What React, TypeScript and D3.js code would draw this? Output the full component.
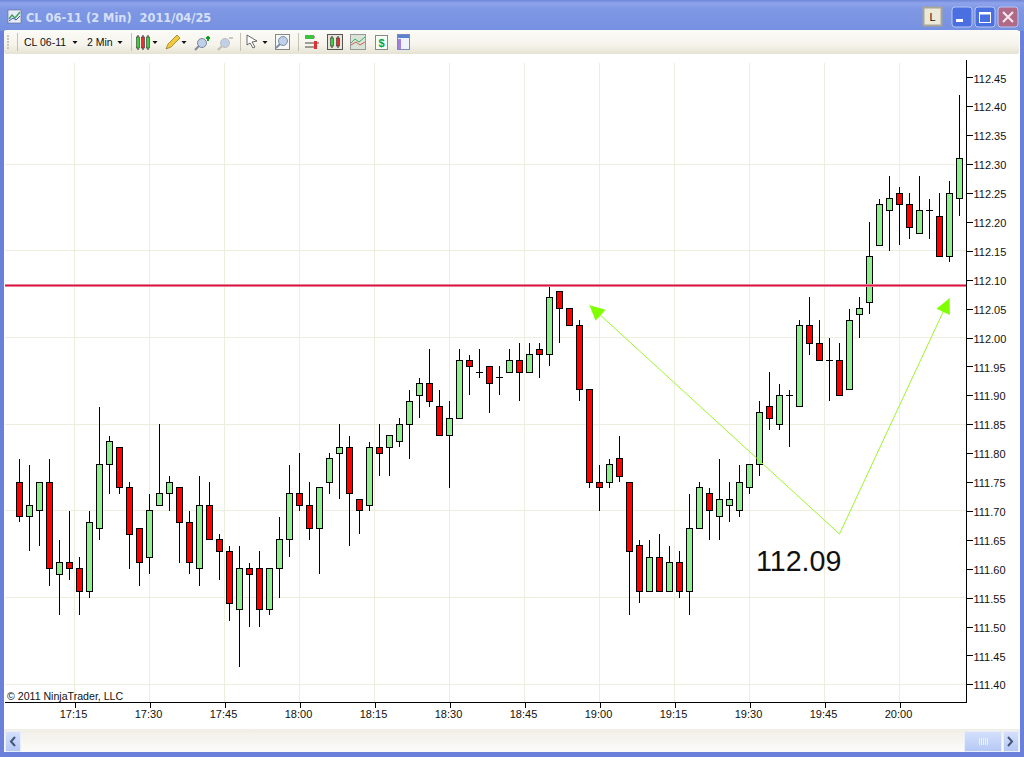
import * as d3 from "d3";
import React, { useEffect, useRef } from "react";

const opens = [111.75,111.69,111.70,111.75,111.59,111.61,111.60,111.56,111.67,111.78,111.81,111.74,111.67,111.62,111.71,111.73,111.74,111.68,111.60,111.71,111.65,111.63,111.53,111.60,111.60,111.53,111.60,111.65,111.73,111.71,111.67,111.75,111.80,111.81,111.72,111.71,111.81,111.81,111.82,111.85,111.90,111.92,111.88,111.83,111.86,111.96,111.94,111.95,111.93,111.94,111.96,111.94,111.98,111.97,112.08,112.05,112.02,111.91,111.75,111.75,111.79,111.75,111.64,111.56,111.62,111.56,111.61,111.56,111.67,111.73,111.69,111.71,111.70,111.74,111.78,111.88,111.85,111.90,111.88,112.02,111.99,111.96,111.96,111.91,112.04,112.06,112.16,112.22,112.25,112.23,112.18,112.22,112.21,112.14,112.24];
const highs = [111.79,111.78,111.75,111.79,111.65,111.70,111.62,111.70,111.88,111.83,111.81,111.75,111.67,111.73,111.85,111.76,111.74,111.70,111.76,111.75,111.66,111.64,111.64,111.61,111.63,111.60,111.69,111.78,111.80,111.75,111.74,111.80,111.85,111.83,111.72,111.82,111.85,111.83,111.86,111.91,111.93,111.98,111.91,111.89,111.98,111.97,111.98,111.95,111.95,111.98,111.99,111.99,111.99,112.09,112.08,112.05,112.03,111.91,111.78,111.79,111.83,111.75,111.65,111.65,111.66,111.64,111.63,111.73,111.75,111.74,111.79,111.75,111.78,111.78,111.89,111.94,111.92,111.91,112.03,112.07,112.03,112.00,111.99,112.05,112.07,112.20,112.24,112.28,112.26,112.25,112.28,112.24,112.25,112.27,112.42];
const lows = [111.68,111.63,111.64,111.57,111.52,111.58,111.52,111.55,111.65,111.73,111.73,111.60,111.57,111.59,111.71,111.70,111.61,111.59,111.57,111.65,111.58,111.51,111.43,111.50,111.50,111.52,111.55,111.62,111.70,111.65,111.59,111.73,111.72,111.64,111.66,111.70,111.76,111.76,111.81,111.79,111.86,111.88,111.83,111.74,111.86,111.90,111.93,111.87,111.90,111.94,111.89,111.94,111.93,111.95,111.99,112.02,111.89,111.74,111.70,111.74,111.75,111.52,111.54,111.56,111.56,111.56,111.55,111.52,111.67,111.65,111.65,111.68,111.69,111.73,111.76,111.84,111.84,111.81,111.88,111.97,111.96,111.89,111.90,111.91,112.00,112.04,112.16,112.15,112.16,112.17,112.18,112.17,112.14,112.13,112.21];
const closes = [111.69,111.71,111.75,111.60,111.61,111.60,111.56,111.68,111.78,111.82,111.74,111.66,111.61,111.70,111.73,111.75,111.68,111.61,111.71,111.65,111.63,111.54,111.60,111.59,111.53,111.60,111.65,111.73,111.71,111.67,111.74,111.79,111.81,111.73,111.70,111.81,111.80,111.83,111.85,111.89,111.92,111.89,111.83,111.86,111.96,111.95,111.94,111.92,111.93,111.96,111.94,111.97,111.97,112.07,112.05,112.02,111.91,111.75,111.74,111.78,111.76,111.63,111.56,111.62,111.56,111.61,111.56,111.67,111.74,111.70,111.72,111.72,111.75,111.78,111.87,111.86,111.90,111.90,112.02,111.99,111.96,111.96,111.90,112.03,112.05,112.14,112.23,112.24,112.23,112.19,112.22,112.22,112.14,112.25,112.31];

const priceTicks = d3.range(111.4, 112.451, 0.05);
const gridPrices = [111.4, 111.55, 111.7, 111.85, 112.0, 112.15, 112.3];
const timeLabels = ["17:15","17:30","17:45","18:00","18:15","18:30","18:45","19:00","19:15","19:30","19:45","20:00"];
const levelPrice = 112.09;
const arrowTimes = ["18:58", "19:48", "20:10"];
const arrowPrices = [112.056, 111.66, 112.068];
const noteText = "112.09";
const titleText = "CL 06-11 (2 Min)  2011/04/25";

const WIDTH = 1024;
const HEIGHT = 757;
const UI_FONT = "Tahoma, 'DejaVu Sans', sans-serif";
const CHART_FONT = "'Liberation Sans', Arial, sans-serif";

const toMinutes = (s: string) => {
  const [h, m] = s.split(":").map(Number);
  return h * 60 + m;
};
const crisp = (v: number) => Math.floor(v) + 0.5;

export default function App() {
  const ref = useRef<SVGSVGElement>(null);

  useEffect(() => {
    const svg = d3.select(ref.current);
    svg.selectAll("*").remove();

    const startMin = toMinutes("17:04");
    const x = d3.scaleLinear().domain([startMin, startMin + 188]).range([19.5, 959.5]);
    const y = d3.scaleLinear().domain([111.4, 112.4]).range([684.3, 106.3]);

    const defs = svg.append("defs");
    const grad = (id: string, stops: [number, string][]) => {
      const g = defs.append("linearGradient").attr("id", id).attr("x1", 0).attr("y1", 0).attr("x2", 0).attr("y2", 1);
      stops.forEach(([o, c]) => g.append("stop").attr("offset", o).attr("stop-color", c));
    };
    grad("titleBar", [[0, "#6f87d8"], [0.1, "#8ea3ea"], [0.3, "#7f97e4"], [0.8, "#7993e2"], [1, "#7490e0"]]);
    grad("toolBar", [[0, "#fbfbf7"], [0.6, "#f6f4ec"], [1, "#e6e3d3"]]);
    grad("scrollBar", [[0, "#f0eee6"], [1, "#fcfcfa"]]);
    grad("btn", [[0, "#d5e0fb"], [1, "#b5c8f5"]]);

    // window frame
    svg.append("rect").attr("width", WIDTH).attr("height", HEIGHT).attr("fill", "#6a80da");
    svg.append("rect").attr("width", WIDTH).attr("height", 31).attr("fill", "url(#titleBar)");
    svg.append("rect").attr("x", 4).attr("y", 31).attr("width", 1016).attr("height", 721).attr("fill", "#fff");

    // title bar
    const ico = svg.append("g").attr("transform", "translate(8,10)");
    ico.append("rect").attr("width", 13).attr("height", 13).attr("fill", "#e8ecf6").attr("stroke", "#5a6a90").attr("stroke-width", 0.6);
    ico.append("path").attr("d", "M1,9L4,5L7,8L12,2").attr("fill", "none").attr("stroke", "#3aa05a").attr("stroke-width", 1.4);
    ico.append("path").attr("d", "M1,11L5,8L8,10L12,6").attr("fill", "none").attr("stroke", "#3a58b0").attr("stroke-width", 1);
    svg.append("text").attr("x", 26).attr("y", 22).attr("font-family", UI_FONT).attr("font-weight", "bold")
      .attr("font-size", 11.4).attr("fill", "#d5e0f8").attr("xml:space", "preserve").style("white-space", "pre").text(titleText);

    svg.append("rect").attr("x", 923.5).attr("y", 7.5).attr("width", 18).attr("height", 18).attr("fill", "#ece9d8").attr("stroke", "#a9a695").attr("stroke-width", 2);
    svg.append("text").attr("x", 932.5).attr("y", 21).attr("text-anchor", "middle").attr("font-family", CHART_FONT).attr("font-size", 11).attr("fill", "#111").text("L");
    const winBtn = (bx: number, fill: string) =>
      svg.append("rect").attr("x", bx).attr("y", 7).attr("width", 20).attr("height", 20).attr("rx", 3).attr("fill", fill).attr("stroke", "#b8c6f2").attr("stroke-width", 1);
    winBtn(952, "#4a6fe0");
    svg.append("rect").attr("x", 956).attr("y", 19).attr("width", 7).attr("height", 3).attr("fill", "#fff");
    winBtn(975, "#4a6fe0");
    svg.append("rect").attr("x", 979.5).attr("y", 12.5).attr("width", 11).attr("height", 10).attr("fill", "none").attr("stroke", "#fff").attr("stroke-width", 1);
    svg.append("rect").attr("x", 979).attr("y", 12).attr("width", 12).attr("height", 2.5).attr("fill", "#fff");
    winBtn(998, "#b06a88");
    svg.append("path").attr("d", "M1003,12L1013,22M1013,12L1003,22").attr("stroke", "#f4e8ee").attr("stroke-width", 2.2);

    // toolbar
    svg.append("rect").attr("x", 4).attr("y", 30).attr("width", 1015).attr("height", 24).attr("rx", 2).attr("fill", "url(#toolBar)");
    d3.range(5).forEach((i) => svg.append("rect").attr("x", 7).attr("y", 35 + i * 3).attr("width", 2).attr("height", 2).attr("fill", "#c8c5b4"));
    [17, 131, 240, 298].forEach((sx) => svg.append("line").attr("x1", sx + 0.5).attr("x2", sx + 0.5).attr("y1", 33).attr("y2", 51).attr("stroke", "#c5c2b2"));
    [[24, "CL 06-11"], [87, "2 Min"]].forEach(([tx, t]) =>
      svg.append("text").attr("x", tx as number).attr("y", 46).attr("font-family", CHART_FONT).attr("font-size", 10.5).attr("fill", "#111").text(t as string));
    [75, 120, 155, 184, 265].forEach((tx) => svg.append("path").attr("d", `M${tx - 2.5},41h5l-2.5,3z`).attr("fill", "#111"));

    const candle = (g: any, cx: number, top: number, h: number, fill: string) => {
      g.append("line").attr("x1", cx).attr("x2", cx).attr("y1", top - 2).attr("y2", top + h + 2).attr("stroke", "#222");
      g.append("rect").attr("x", cx - 1.5).attr("y", top).attr("width", 3).attr("height", h).attr("fill", fill).attr("stroke", "#333").attr("stroke-width", 0.6);
    };
    const icons = svg.append("g");
    candle(icons, 138, 37, 11, "#3ecf3e");
    candle(icons, 143, 37, 11, "#f03030");
    candle(icons, 148, 37, 11, "#3ecf3e");
    icons.append("path").attr("d", "M166,49L168,44L177,35L180,38L171,47z").attr("fill", "#f3c93a").attr("stroke", "#8a7020").attr("stroke-width", 0.7);
    const lens = (lx: number, ly: number, c: string) => {
      icons.append("circle").attr("cx", lx).attr("cy", ly).attr("r", 4.5).attr("fill", "#c0d0e8").attr("stroke", c);
      icons.append("line").attr("x1", lx - 3).attr("y1", ly + 3).attr("x2", lx - 7).attr("y2", ly + 7).attr("stroke", c).attr("stroke-width", 2);
    };
    lens(202, 43, "#7a88a0");
    icons.append("path").attr("d", "M206,38h4M208,36v5").attr("stroke", "#10a020").attr("stroke-width", 2);
    lens(225, 43, "#bdbdb8");
    icons.append("path").attr("d", "M229,38h4").attr("stroke", "#c8c8c0").attr("stroke-width", 2);
    icons.append("path").attr("d", "M247,35L247,45L250,43L253,48L255,47L252,42L257,41z").attr("fill", "#fff").attr("stroke", "#444").attr("stroke-width", 0.8);
    icons.append("rect").attr("x", 275.5).attr("y", 34.5).attr("width", 14).attr("height", 15).attr("fill", "#f8f8f4").attr("stroke", "#888");
    lens(283, 41, "#7a90b0");
    icons.append("path").attr("d", "M305,37h10M305,43h14M305,47h10").attr("stroke", "#444").attr("stroke-width", 1);
    icons.append("rect").attr("x", 305).attr("y", 35).attr("width", 9).attr("height", 4).attr("fill", "#40c040");
    icons.append("rect").attr("x", 314).attr("y", 41).attr("width", 3).attr("height", 8).attr("fill", "#e03030");
    icons.append("rect").attr("x", 327.5).attr("y", 34.5).attr("width", 15).attr("height", 15).attr("fill", "#e8e6da").attr("stroke", "#555");
    candle(icons, 332, 38, 8, "#3ecf3e");
    candle(icons, 338, 38, 8, "#e03030");
    icons.append("rect").attr("x", 350.5).attr("y", 34.5).attr("width", 15).attr("height", 15).attr("fill", "#d9e4d9").attr("stroke", "#999");
    icons.append("path").attr("d", "M351,43L355,39L359,42L365,37").attr("fill", "none").attr("stroke", "#40b060");
    icons.append("path").attr("d", "M351,45L356,42L360,45L365,42").attr("fill", "none").attr("stroke", "#d06060");
    icons.append("rect").attr("x", 375.5).attr("y", 35.5).attr("width", 12).attr("height", 14).attr("fill", "#f6fff6").attr("stroke", "#888");
    icons.append("text").attr("x", 381.5).attr("y", 47).attr("text-anchor", "middle").attr("font-family", CHART_FONT).attr("font-weight", "bold").attr("font-size", 11).attr("fill", "#10a040").text("$");
    icons.append("rect").attr("x", 397.5).attr("y", 34.5).attr("width", 12).attr("height", 15).attr("fill", "#eef2fa").attr("stroke", "#7a88c0");
    icons.append("rect").attr("x", 398).attr("y", 35).attr("width", 11).attr("height", 3).attr("fill", "#5a80d0");
    icons.append("rect").attr("x", 398).attr("y", 39).attr("width", 3).attr("height", 10).attr("fill", "#a080d8");

    // grid
    const plot = svg.append("g").attr("shape-rendering", "crispEdges");
    plot.selectAll(".gy").data(gridPrices).join("line").attr("x1", 5).attr("x2", 966)
      .attr("y1", (d) => crisp(y(d))).attr("y2", (d) => crisp(y(d))).attr("stroke", "#eeeede");
    plot.selectAll(".gx").data(timeLabels).join("line").attr("y1", 63).attr("y2", 702)
      .attr("x1", (d) => crisp(x(toMinutes(d)))).attr("x2", (d) => crisp(x(toMinutes(d)))).attr("stroke", "#eeeede");

    // candlesticks
    const barIdx = d3.range(opens.length);
    const bx = (i: number) => crisp(x(startMin + i * 2));
    plot.selectAll(".wick").data(barIdx).join("line").attr("x1", bx).attr("x2", bx)
      .attr("y1", (i) => Math.round(y(highs[i]))).attr("y2", (i) => Math.round(y(lows[i]))).attr("stroke", "#000");
    plot.selectAll(".doji").data(barIdx.filter((i) => opens[i] === closes[i])).join("line")
      .attr("x1", (i) => bx(i) - 3.5).attr("x2", (i) => bx(i) + 3.5)
      .attr("y1", (i) => crisp(y(opens[i]))).attr("y2", (i) => crisp(y(opens[i]))).attr("stroke", "#000");
    plot.selectAll(".body").data(barIdx.filter((i) => opens[i] !== closes[i])).join("rect")
      .attr("x", (i) => bx(i) - 3).attr("width", 6)
      .attr("y", (i) => crisp(y(Math.max(opens[i], closes[i]))))
      .attr("height", (i) => crisp(y(Math.min(opens[i], closes[i]))) - crisp(y(Math.max(opens[i], closes[i]))))
      .attr("fill", (i) => (closes[i] > opens[i] ? "#90ee90" : "#ff0000"))
      .attr("stroke", "#000");

    // horizontal level
    svg.append("line").attr("x1", 5).attr("x2", 966).attr("y1", crisp(y(levelPrice))).attr("y2", crisp(y(levelPrice)))
      .attr("stroke", "#e87d98").attr("stroke-width", 3).attr("shape-rendering", "crispEdges");
    svg.append("line").attr("x1", 5).attr("x2", 966).attr("y1", crisp(y(levelPrice))).attr("y2", crisp(y(levelPrice)))
      .attr("stroke", "#dc143c").attr("stroke-width", 1).attr("shape-rendering", "crispEdges");

    // arrows
    const pts = arrowTimes.map((t, i) => [x(toMinutes(t)), y(arrowPrices[i])] as [number, number]);
    svg.append("path").attr("d", d3.line()(pts)).attr("fill", "none").attr("stroke", "#9df52e").attr("stroke-width", 1);
    [[pts[0], pts[1]], [pts[2], pts[1]]].forEach(([tip, from]) => {
      const dx = from[0] - tip[0];
      const dy = from[1] - tip[1];
      const len = Math.hypot(dx, dy);
      const ux = dx / len;
      const uy = dy / len;
      const mx = tip[0] + ux * 15;
      const my = tip[1] + uy * 15;
      svg.append("path")
        .attr("d", `M${tip[0]},${tip[1]}L${mx - uy * 7.4},${my + ux * 7.4}L${mx + uy * 7.4},${my - ux * 7.4}Z`)
        .attr("fill", "#7fff00");
    });
    svg.append("text").attr("x", 756).attr("y", 571).attr("font-family", CHART_FONT).attr("font-size", 28.6).attr("fill", "#111").text(noteText);

    // axes
    const yAxis = d3.axisRight(y).tickValues(priceTicks).tickFormat(d3.format(".2f") as any).tickSize(6).tickPadding(1);
    const yG = svg.append("g").attr("transform", "translate(966.5,0)").call(yAxis as any);
    yG.select(".domain").remove();
    yG.selectAll("text").attr("font-family", CHART_FONT).attr("font-size", 11).attr("fill", "#111").attr("dy", "0.42em");
    yG.selectAll("line").attr("stroke", "#000").attr("shape-rendering", "crispEdges");
    const xAxis = d3.axisBottom(x).tickValues(timeLabels.map(toMinutes))
      .tickFormat((_, i) => timeLabels[i]).tickSize(6).tickPadding(2);
    const xG = svg.append("g").attr("transform", "translate(0,702)").call(xAxis as any);
    xG.select(".domain").remove();
    xG.selectAll("text").attr("font-family", CHART_FONT).attr("font-size", 11).attr("fill", "#111").attr("dx", -1.5);
    xG.selectAll("line").attr("stroke", "#000").attr("shape-rendering", "crispEdges");

    svg.append("rect").attr("x", 966).attr("y", 60).attr("width", 1).attr("height", 643).attr("fill", "#000");
    svg.append("rect").attr("x", 5).attr("y", 702).attr("width", 962).attr("height", 1).attr("fill", "#000");
    svg.append("text").attr("x", 7).attr("y", 700).attr("font-family", CHART_FONT).attr("font-size", 10.6).attr("fill", "#111").text("\u00a9 2011 NinjaTrader, LLC");

    // scrollbar
    svg.append("rect").attr("x", 4).attr("y", 729).attr("width", 1016).attr("height", 23).attr("fill", "url(#scrollBar)");
    const sBtn = (sx: number, w: number) =>
      svg.append("rect").attr("x", sx + 0.5).attr("y", 731.5).attr("width", w).attr("height", 20).attr("rx", 1).attr("fill", "url(#btn)").attr("stroke", "#e8eefc");
    sBtn(5, 15);
    sBtn(964, 37);
    sBtn(1003, 15);
    svg.append("path").attr("d", "M15,737L11,741.5L15,746").attr("fill", "none").attr("stroke", "#44557a").attr("stroke-width", 2);
    svg.append("path").attr("d", "M1008,737L1012,741.5L1008,746").attr("fill", "none").attr("stroke", "#44557a").attr("stroke-width", 2);
    d3.range(5).forEach((i) => svg.append("line").attr("x1", 979.5 + i * 2).attr("x2", 979.5 + i * 2).attr("y1", 738).attr("y2", 745).attr("stroke", "#eef2fd"));
  }, []);

  return (
    <svg
      ref={ref}
      width={WIDTH}
      height={HEIGHT}
      style={{ position: "absolute", left: 0, top: 0, display: "block" }}
    />
  );
}
